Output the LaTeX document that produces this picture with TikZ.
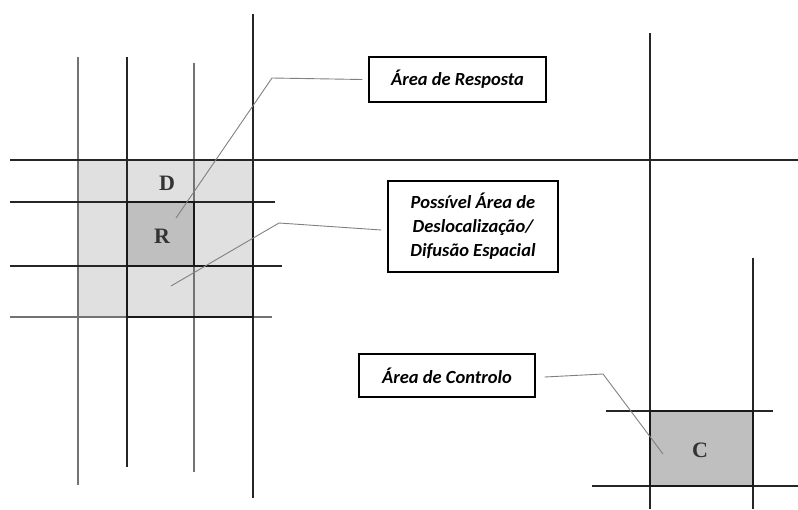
\documentclass[tikz,border=0pt]{standalone}
\usepackage{fontspec}
\setmainfont{Liberation Serif}
\newfontfamily\boxfont{Carlito}
\begin{document}
\begin{tikzpicture}[x=1pt,y=-1pt,
  grid/.style={line width=1.7pt,draw=black!85},
  gridg/.style={line width=1.7pt,draw=black!55},
  edge/.style={line width=2.3pt,draw=black!90},
  lead/.style={line width=0.9pt,draw=black!50},
  label/.style={draw=black,line width=1.2pt,fill=white,align=center,
    font=\boxfont\bfseries\itshape\fontsize{18.5}{24}\selectfont,inner sep=0pt},
  letter/.style={font=\bfseries\fontsize{22}{22}\selectfont,text=black!80}]
\useasboundingbox (0,0) rectangle (798,509);
% fills
\fill[black!12] (78,160) rectangle (253,317);
\fill[black!25] (127,202) rectangle (194,266);
\fill[black!25] (649,411) rectangle (753,486);
% grid lines left
\draw[gridg] (78,57) -- (78,485);
\draw[grid] (127,57) -- (127,467);
\draw[gridg] (194,63) -- (194,472);
\draw[grid] (253,14) -- (253,498);
\draw[grid] (10,160) -- (798,160);
\draw[grid] (10,202) -- (275,202);
\draw[grid] (10,266) -- (282,266);
\draw[gridg] (10,317) -- (272,317);
% grid lines right
\draw[grid] (650,33) -- (650,509);
\draw[grid] (753,258) -- (753,509);
\draw[grid] (606,411) -- (773,411);
\draw[grid] (592,486) -- (798,486);
% emphasised outlines
\draw[edge] (127,202) rectangle (194,266);
\draw[edge] (127,266) rectangle (253,317);
\draw[edge] (253,202) -- (253,317);
\draw[edge] (650,411) rectangle (753,486);
% letters
\node[letter] (D) at (167,183) {D};
\node[letter] (R) at (162,236) {R};
\node[letter] (C) at (700,450) {C};
% label boxes
\node[label,minimum width=177pt,minimum height=45pt] (resp) at (457.5,79.5) {Área de Resposta};
\node[label,minimum width=170pt,minimum height=91pt] (desl) at (473,226.5) {Possível Área de\\Deslocalização/\\Difusão Espacial};
\node[label,minimum width=176pt,minimum height=43pt] (ctrl) at (447,375.5) {Área de Controlo};
% leaders
\coordinate (rEnd) at (176,218);
\coordinate (dEnd) at (171,286);
\coordinate (cEnd) at (663,454);
\draw[lead] ([xshift=-6pt]resp.west) -- (272,78) -- (rEnd);
\draw[lead] ([xshift=-6pt,yshift=-3.5pt]desl.west) -- (279,223) -- (dEnd);
\draw[lead] ([xshift=9pt,yshift=-1.5pt]ctrl.east) -- (603,374) -- (cEnd);
\end{tikzpicture}
\end{document}
